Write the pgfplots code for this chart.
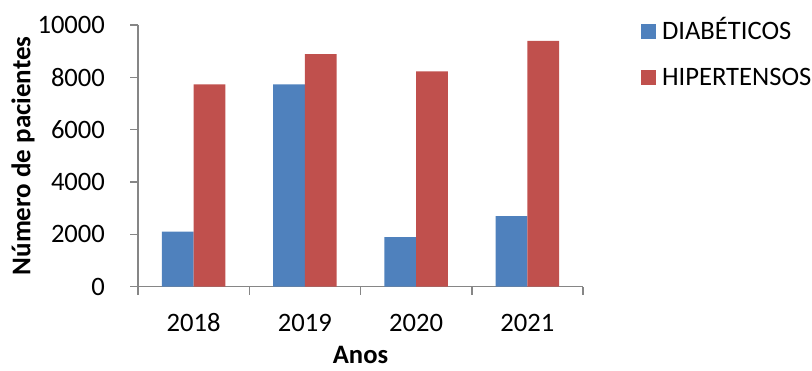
\documentclass[border=0pt]{standalone}
\usepackage{fontspec}
\setmainfont{Carlito}
\usepackage{pgfplots}
\pgfplotsset{compat=1.18}
\definecolor{cblue}{HTML}{4F81BD}
\definecolor{cred}{HTML}{C0504D}
\definecolor{cgray}{HTML}{868686}
\begin{document}
\begin{tikzpicture}
\path[use as bounding box] (0,0) rectangle (406pt,185pt);
\begin{axis}[
 at={(69pt,41.65pt)}, anchor=south west,
 scale only axis, width=222.5pt, height=130.85pt,
 ybar=0pt, bar width=15.85pt,
 xmin=-0.5, xmax=3.5, ymin=0, ymax=10000,
 xtick={0,1,2,3}, xticklabels={2018,2019,2020,2021},
 major x tick style={draw=none},
 extra x ticks={-0.5,0.5,1.5,2.5,3.5}, extra x tick labels={},
 extra x tick style={major x tick style={draw=cgray, line width=0.75pt}},
 ytick={0,2000,4000,6000,8000,10000},
 axis x line*=bottom, axis y line*=left,
 axis line style={draw=cgray, line width=0.75pt, -},
 tick align=outside, major tick length=4pt,
 tick style={draw=cgray, line width=0.75pt},
 tick label style={font=\fontsize{13.3}{15}\selectfont},
 /pgf/number format/assume math mode=true,
 scaled y ticks=false,
 yticklabel style={/pgf/number format/1000 sep={}, xshift=-9pt},
 xticklabel style={yshift=-6pt},
 xlabel={Anos}, ylabel={Número de pacientes},
 xlabel style={at={(axis description cs:0.5,0)}, anchor=base, yshift=-38.6pt, font=\bfseries\fontsize{13.3}{15}\selectfont},
 ylabel style={at={(axis description cs:-0.2584,0.5)}, anchor=center, font=\bfseries\fontsize{13.5}{15}\selectfont},
 legend style={at={(axis description cs:1,1)}, anchor=north west, xshift=29pt, yshift=1.25pt,
   draw=none, fill=none, inner sep=0pt, outer sep=0pt,
   font=\fontsize{13.3}{15}\selectfont,
   nodes={inner sep=0pt, anchor=west, text height=8.5pt, text depth=0pt},
   column sep=3pt, row sep=14.5pt},
 legend cell align=left,
]
\addplot[fill=cblue, draw=none, legend image code/.code={\fill[cblue] (0pt,-3.75pt) rectangle (7.5pt,3.75pt);}] coordinates {(0,2100) (1,7730) (2,1890) (3,2700)};
\addplot[fill=cred, draw=none, legend image code/.code={\fill[cred] (0pt,-3.75pt) rectangle (7.5pt,3.75pt);}] coordinates {(0,7730) (1,8890) (2,8230) (3,9390)};
\legend{DIABÉTICOS, HIPERTENSOS}
\end{axis}
\end{tikzpicture}
\end{document}
